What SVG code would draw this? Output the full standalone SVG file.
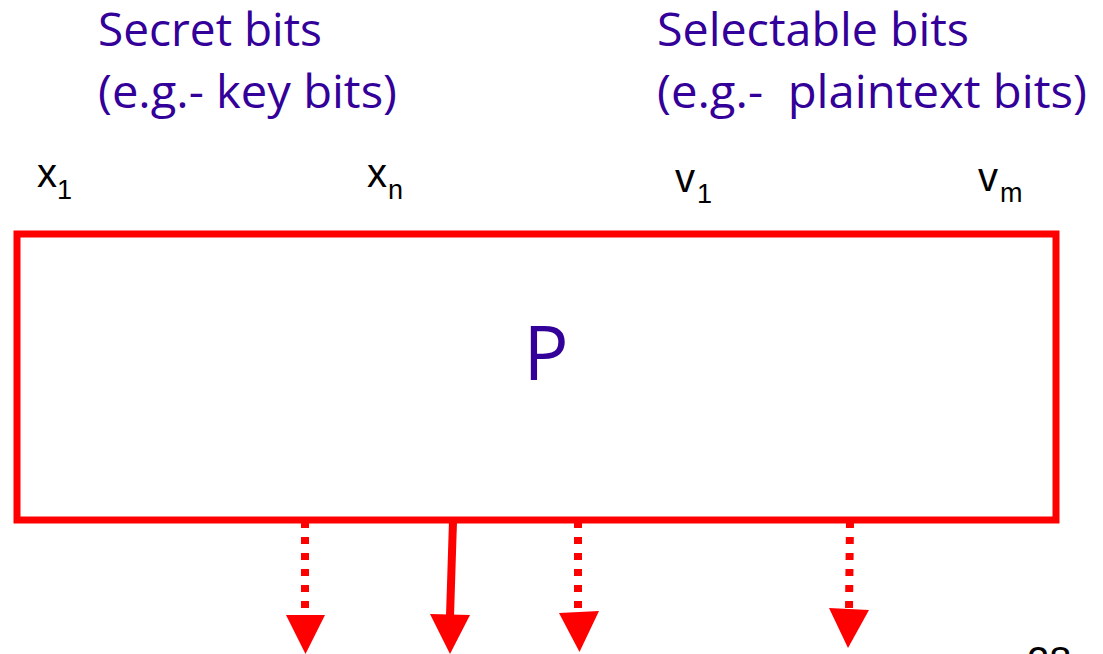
<svg xmlns="http://www.w3.org/2000/svg" width="1103" height="654" viewBox="0 0 1103 654">
  <style>
    .head { font-family: "Open Sans", "Liberation Sans", sans-serif; font-size: 45px; fill: #330099; white-space: pre; }
    .var { font-family: "Liberation Sans", Arial, sans-serif; font-size: 40px; fill: #000000; }
    .sub { font-size: 27px; }
    .box { fill: #ffffff; stroke: #ff0000; stroke-width: 7; }
    .dot { stroke: #ff0000; stroke-width: 8; stroke-dasharray: 7 9; fill: none; }
    .solid { stroke: #ff0000; stroke-width: 8; fill: none; }
    .tri { fill: #ff0000; }
  </style>
  <rect width="1103" height="654" fill="#ffffff"/>
  <g id="secret-label">
    <text class="head" x="98" y="46" textLength="224" lengthAdjust="spacingAndGlyphs">Secret bits</text>
    <text class="head" x="98" y="108" textLength="299" lengthAdjust="spacingAndGlyphs">(e.g.- key bits)</text>
  </g>
  <g id="selectable-label">
    <text class="head" x="657" y="46" textLength="312" lengthAdjust="spacingAndGlyphs">Selectable bits</text>
    <text class="head" x="657" y="108" textLength="430" lengthAdjust="spacingAndGlyphs">(e.g.-  plaintext bits)</text>
  </g>
  <g id="inputs">
    <text class="var" x="37" y="187">x<tspan class="sub" x="57" y="199">1</tspan></text>
    <text class="var" x="367" y="187">x<tspan class="sub" x="388" y="199">n</tspan></text>
    <text class="var" x="675" y="192" font-size="42">v<tspan class="sub" x="697" y="203">1</tspan></text>
    <text class="var" x="978" y="191" font-size="42">v<tspan class="sub" x="1000" y="202">m</tspan></text>
  </g>
  <g id="node-P">
    <rect class="box" x="17" y="234" width="1039" height="286"/>
    <text x="546" y="380" text-anchor="middle" font-family="Open Sans, Liberation Sans, sans-serif" font-size="75" fill="#330099">P</text>
  </g>
  <g id="connectors">
    <line class="dot" x1="305" y1="521" x2="305" y2="608"/>
    <polygon class="tri" points="286,615 325,615 305.5,654"/>
    <line class="solid" x1="453" y1="521" x2="450" y2="616"/>
    <polygon class="tri" points="430,614 470,615 450,654"/>
    <line class="dot" x1="578" y1="521" x2="578" y2="608"/>
    <polygon class="tri" points="559,613 599,611 579.5,652"/>
    <line class="dot" x1="850" y1="521" x2="849" y2="610"/>
    <polygon class="tri" points="829,608 869,610 848,648"/>
  </g>
  <text x="1027" y="675" font-family="Liberation Sans, Arial, sans-serif" font-size="40" fill="#000000">28</text>
</svg>
